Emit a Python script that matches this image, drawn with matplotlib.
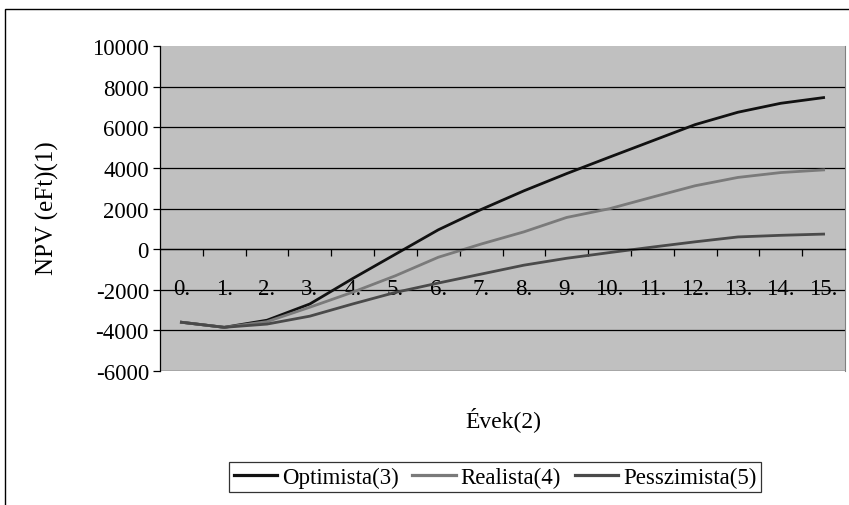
import numpy as np
import matplotlib.pyplot as plt
from matplotlib.patches import Rectangle

plt.rcParams['font.family'] = ['Liberation Serif', 'DejaVu Serif']
plt.rcParams['axes.unicode_minus'] = False

# evek es NPV ertekek (eFt)
years = ['0.', '1.', '2.', '3.', '4.', '5.', '6.', '7.', '8.', '9.', '10.', '11.', '12.', '13.', '14.', '15.']
optimista = [-3600, -3850, -3500, -2700, -1450, -250, 950, 1950, 2870, 3720, 4530, 5330, 6130, 6740, 7180, 7460]
realista = [-3600, -3850, -3570, -2860, -2120, -1310, -400, 250, 850, 1560, 1990, 2560, 3120, 3530, 3770, 3900]
pesszimista = [-3600, -3850, -3690, -3300, -2700, -2130, -1670, -1230, -790, -450, -170, 100, 360, 600, 680, 740]

fig = plt.figure(figsize=(8.49, 5.06), dpi=100)

# kulso keret (csak bal es felso oldal latszik)
fig.patches.append(Rectangle((5 / 849, -0.1), 1.2, 1 - 10 / 506 + 0.1, transform=fig.transFigure,
                             fill=False, edgecolor='black', linewidth=1))

ax = fig.add_axes([160 / 849, 1 - 372 / 506, 685 / 849, 325 / 506])
ax.set_facecolor('#c0c0c0')

x = np.arange(len(years))
ax.plot(x, optimista, color='#111111', lw=2.0, label='Optimista(3)')
ax.plot(x, realista, color='#7a7a7a', lw=2.0, label='Realista(4)')
ax.plot(x, pesszimista, color='#4a4a4a', lw=2.0, label='Pesszimista(5)')

ax.set_xlim(-0.5, 15.5)
ax.set_ylim(-6000, 10000)
ax.set_yticks(np.arange(-6000, 10001, 2000))
ax.yaxis.grid(True, color='black', lw=0.9)
ax.yaxis.get_gridlines()[-1].set_visible(False)
ax.set_axisbelow(True)
ax.tick_params(axis='y', labelsize=16.5, length=5, direction='out', width=0.9, pad=3)

# kategoria tengely a nulla vonalon
ax.spines['bottom'].set_position(('data', 0))
ax.spines['top'].set_visible(False)
ax.spines['right'].set_color('#808080')
ax.spines['left'].set_linewidth(0.9)
ax.spines['bottom'].set_linewidth(0.9)
ax.set_xticks(np.arange(0.5, 15.5, 1))
ax.set_xticklabels([])
ax.set_xticks(x, minor=True)
ax.set_xticklabels(years, minor=True)
ax.tick_params(axis='x', which='major', length=5, direction='out', width=0.9)
ax.tick_params(axis='x', which='minor', length=0, labelsize=16.5, pad=21)

fig.text(47 / 849, 1 - 208 / 506, 'NPV (eFt)(1)', rotation=90, fontsize=18, ha='center', va='center')
fig.text(503 / 849, 1 - 420 / 506, 'Évek(2)', fontsize=17, ha='center', va='center')

leg = fig.legend(loc='center', bbox_to_anchor=(495 / 849, 1 - 478 / 506), ncol=3, fontsize=16.5,
                 frameon=True, fancybox=False, edgecolor='black', handlelength=1.9,
                 handletextpad=0.2, columnspacing=0.6, borderpad=0.2)
leg.get_frame().set_linewidth(0.9)
for line in leg.get_lines():
    line.set_linewidth(2.3)

fig.savefig('out.png', dpi=100)
